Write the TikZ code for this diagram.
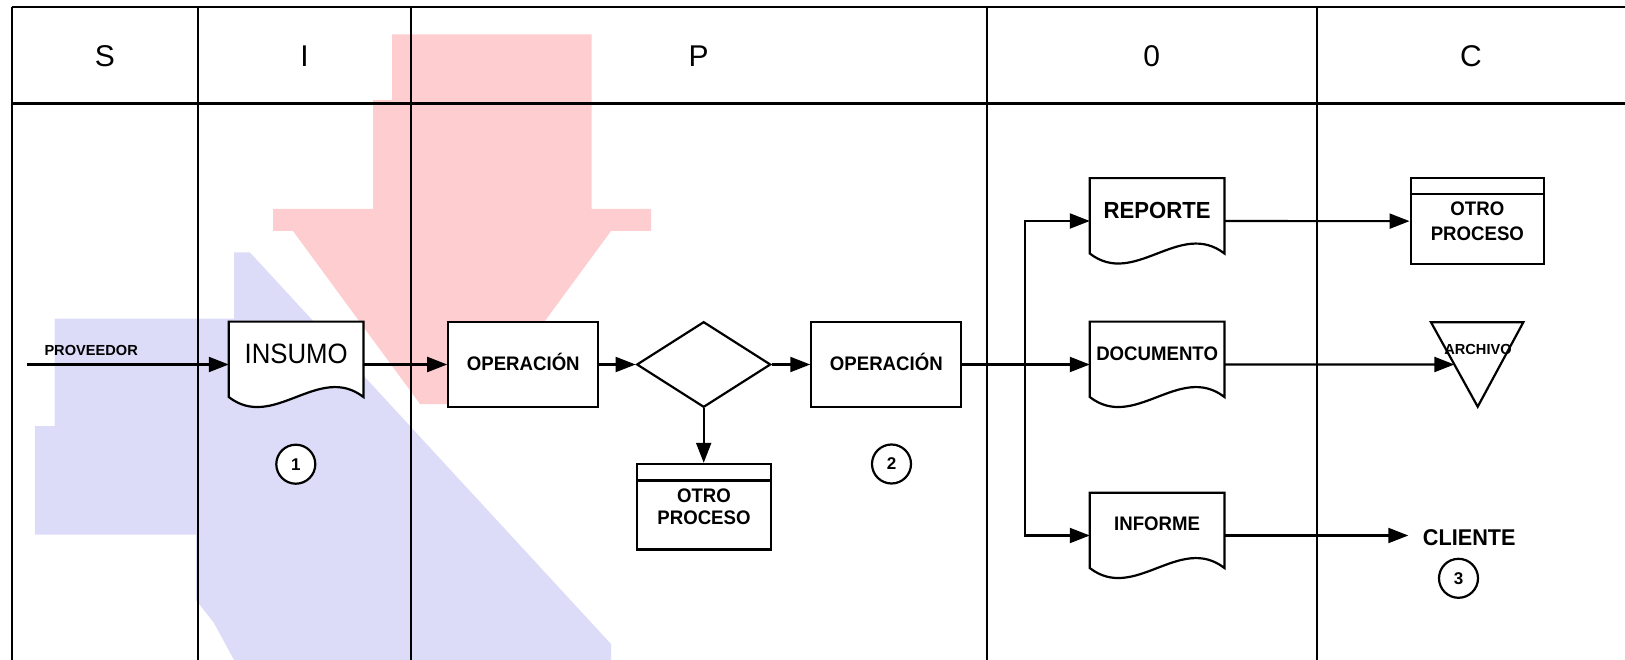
\documentclass[tikz,border=0pt]{standalone}
\usepackage{fontspec}
\setmainfont{Liberation Sans}
\newfontfamily\nsf[FakeStretch=0.95]{Liberation Sans}
\newfontfamily\isf[FakeStretch=0.92]{Liberation Sans}
\usetikzlibrary{shapes.geometric,arrows.meta,calc}
\definecolor{blobred}{RGB}{253,205,208}
\definecolor{blobblue}{RGB}{220,220,248}
\pgfdeclarelayer{blobs}
\pgfdeclarelayer{back}
\pgfsetlayers{blobs,back,main}
\begin{document}
\begin{tikzpicture}[x=1pt,y=-1pt,
  tline/.style={line width=1.9pt},
  hline/.style={line width=2.6pt},
  bline/.style={line width=2.2pt},
  arr/.style={line width=2.1pt,-{Triangle[length=20pt,width=15pt]}},
  opbox/.style={draw,bline,fill=white,rectangle,inner sep=0pt,minimum width=150pt,minimum height=85.6pt,text height=0pt,text depth=0pt,font=\nsf\bfseries\fontsize{19.6}{22.7}\selectfont},
  docbox/.style={rectangle,inner sep=0pt,minimum width=134.3pt,minimum height=85.3pt,text height=0pt,text depth=0pt},
  procbox/.style={draw,bline,fill=white,rectangle,inner sep=0pt,minimum width=133.4pt,minimum height=85.5pt,align=center,font=\nsf\bfseries\fontsize{19.6}{22.7}\selectfont},
  numc/.style={draw,bline,fill=white,circle,inner sep=0pt,minimum size=39pt,font=\bfseries\fontsize{17}{17}\selectfont},
  head/.style={font=\fontsize{30}{30}\selectfont}
]
\useasboundingbox (0,0) rectangle (1625,660);

% background watermark blobs
\begin{pgfonlayer}{blobs}
\fill[blobblue] (234,252.5) -- (250,252.5) -- (611,644) -- (611,660) -- (234,660) -- (214,623) -- (196,600) -- (196,534.5) -- (34.8,534.5) -- (34.8,426) -- (54.5,426) -- (54.5,318.6) -- (234,318.6) -- cycle;
\fill[blobred] (392,34.5) -- (591.5,34.5) -- (591.5,209) -- (651,209) -- (651,231) -- (611,231) -- (484,404) -- (420,404) -- (293,231) -- (273,231) -- (273,209) -- (373,209) -- (373,100) -- (392,100) -- cycle;
\end{pgfonlayer}

% table
\draw[line width=2.2pt] (11.7,7) -- (1625,7);
\draw[hline] (11.7,103.3) -- (1625,103.3);
\foreach \cx in {11.7,198.3,410.7,986.7,1316.7}{
  \draw[tline] (\cx,7) -- (\cx,660);
}
\node[head] (hS) at (105,55.8) {S};
\node[head] (hI) at (304.5,55.8) {I};
\node[head] (hP) at (698.7,55.8) {P};
\node[head] (hO) at (1151.7,55.8) {0};
\node[head] (hC) at (1471,55.8) {C};

% nodes
\node[font=\bfseries\fontsize{14.6}{14.6}\selectfont,anchor=base west,inner sep=0pt] (prov) at (44.3,355) {PROVEEDOR};
\coordinate (start) at (26.7,364.5);
\node[docbox,font=\isf\fontsize{28}{28}\selectfont] (insumo) at (296.15,364.5) {\raisebox{1.2pt}{INSUMO}};
\node[opbox] (op1) at (523.3,364.5) {\raisebox{-5.5pt}{OPERACIÓN}};
\node[diamond,draw,bline,fill=white,inner sep=0pt,minimum width=134pt,minimum height=85.6pt] (dec) at (703.7,364.5) {};
\node[procbox] (otro1) at (704,506.65) {OTRO\\PROCESO};
\node[opbox] (op2) at (886.35,364.5) {\raisebox{-5.5pt}{OPERACIÓN}};
\node[numc] (n1) at (295.8,464.2) {1};
\node[numc] (n2) at (891.5,464) {2};
\coordinate (jn) at (1025,364.5);
\node[docbox,font=\nsf\bfseries\fontsize{23.3}{23.3}\selectfont] (reporte) at (1157.15,221) {\raisebox{2.7pt}{REPORTE}};
\node[docbox,font=\nsf\bfseries\fontsize{19.6}{19.6}\selectfont] (documento) at (1157.15,364.5) {\raisebox{3.8pt}{DOCUMENTO}};
\node[docbox,font=\nsf\bfseries\fontsize{19.6}{19.6}\selectfont] (informe) at (1157.15,535.5) {\raisebox{4.8pt}{INFORME}};
\node[procbox,font=\nsf\bfseries\fontsize{19.6}{24.5}\selectfont] (otro2) at (1477.35,221.15) {OTRO\\PROCESO};
\coordinate (atl) at (1431,322.3);
\coordinate (atr) at (1523.3,322.3);
\coordinate (aap) at (1477.7,406.7);
\coordinate (ain) at ($(atl)!0.5!(aap)$);
\draw[bline,line join=miter] (atl) -- (atr) -- (aap) -- cycle;
\node[font=\bfseries\fontsize{14.6}{14.6}\selectfont,inner sep=0pt] (archivo) at (1478,349.8) {ARCHIVO};
\node[font=\nsf\bfseries\fontsize{22.8}{22.8}\selectfont,anchor=west,inner xsep=14.4pt,inner ysep=0pt] (cliente) at (1408.3,537.5) {CLIENTE};
\node[numc] (n3) at (1458.5,578.3) {3};

% stripes of predefined process boxes
\draw[bline] ([yshift=-17.7pt]otro1.north west) -- ([yshift=-17.7pt]otro1.north east);
\draw[bline] ([yshift=-16.7pt]otro2.north west) -- ([yshift=-16.7pt]otro2.north east);

% document outlines
\begin{pgfonlayer}{back}
\foreach \n in {insumo,reporte,documento,informe}{
  \draw[bline,fill=white] (\n.north west) -- ([yshift=10.3pt]\n.south west)
    .. controls ([xshift=44.77pt,yshift=-24.3pt]\n.south west) and ([xshift=-44.77pt,yshift=44.9pt]\n.south east)
    .. ([yshift=10.3pt]\n.south east) -- (\n.north east) -- cycle;
}
\end{pgfonlayer}

% connectors
\draw[arr] (start) -- (insumo.west);
\draw[arr] (insumo.east) -- (op1.west);
\draw[arr] (op1.east) -- (dec.west);
\draw[arr] (dec.south) -- (dec.south |- otro1.north);
\draw[arr] (dec.east) -- (op2.west);
\draw[arr] (op2.east) -- (documento.west);
\draw[arr] (jn) |- (reporte.west);
\draw[arr] (jn) |- (informe.west);
\draw[arr] (reporte.east) -- (otro2.west);
\draw[arr] (documento.east) -- (ain);
\draw[arr] (informe.east) -- (informe.east -| cliente.west);
\end{tikzpicture}
\end{document}
